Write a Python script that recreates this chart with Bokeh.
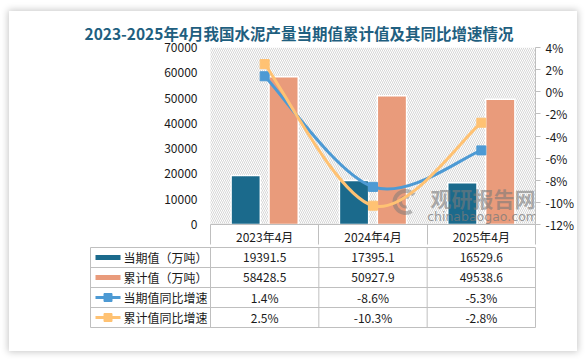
from bokeh.plotting import figure
from bokeh.models import (Range1d, LinearAxis, FixedTicker, PrintfTickFormatter,
                          BoxAnnotation, Label, ColumnDataSource)
from bokeh.layouts import column
from bokeh.embed import file_html
from bokeh.resources import INLINE
from bokeh.core.properties import value

# ---------------- data ----------------
categories = ["2023年4月", "2024年4月", "2025年4月"]
cur_vals = [19391.5, 17395.1, 16529.6]        # 当期值（万吨）
cum_vals = [58428.5, 50927.9, 49538.6]        # 累计值（万吨）
cur_yoy = [1.4, -8.6, -5.3]                   # 当期值同比增速 %
cum_yoy = [2.5, -10.3, -2.8]                  # 累计值同比增速 %
series_names = ["当期值（万吨）", "累计值（万吨）", "当期值同比增速", "累计值同比增速"]
left_ticks = [0, 10000, 20000, 30000, 40000, 50000, 60000, 70000]
right_ticks = [-12, -10, -8, -6, -4, -2, 0, 2, 4]
title_text = "2023-2025年4月我国水泥产量当期值累计值及其同比增速情况"

# ---------------- style ----------------
FONT = "Noto Sans CJK SC"
C_CUR = "#1b6a8c"
C_CUM = "#e99b7b"
C_CURY = "#4d9ad4"
C_CUMY = "#ffc273"
GRID = "#bfbfbf"
TXT = "#1a1a1a"
WM = "#7a7a7a"

W = 568
BL, BR = 81, 42               # borders shared by both figures
n = len(categories)
col_px = (W - BL - BR - 120) / n   # pixel width of one category column
L = 120.0 / col_px                 # label column width in data units
u = 1.0 / col_px                   # data units per pixel
xc = [i + 0.5 for i in range(n)]

# ---------------- chart ----------------
p = figure(width=W, height=236, x_range=Range1d(-L, n),
           y_range=Range1d(left_ticks[0], left_ticks[-1]),
           output_backend="svg", toolbar_location=None,
           min_border_left=BL, min_border_right=BR, min_border_top=36,
           min_border_bottom=20, outline_line_color=None,
           background_fill_color="white", border_fill_color="white",
           title=title_text)
p.title.align = "left"
p.title.offset = -6
p.title.standoff = 8
p.title.text_font = FONT
p.title.text_font_size = "15.5px"
p.title.text_font_style = "bold"
p.title.text_color = "#1f5f80"

p.xgrid.visible = False
p.ygrid.visible = False

# hatched plot background (only over the category area)
p.add_layout(BoxAnnotation(left=0, fill_color=None, line_color=None, hatch_pattern="\\",
                           hatch_color="#d6d6d6", hatch_scale=4, hatch_weight=1,
                           level="underlay"))

# left axis (labels pushed right to sit next to the category area)
ya = p.yaxis[0]
ya.ticker = FixedTicker(ticks=left_ticks)
ya.axis_line_color = None
ya.major_tick_line_color = None
ya.minor_tick_line_color = None
ya.major_tick_in = 0
ya.major_tick_out = 0
ya.major_label_standoff = -107
ya.major_label_text_font = FONT
ya.major_label_text_font_size = "12px"
ya.major_label_text_color = TXT

# bottom axis acting as table header
xa = p.xaxis[0]
xa.ticker = FixedTicker(ticks=xc, minor_ticks=list(range(n + 1)))
xa.major_label_overrides = {x: c for x, c in zip(xc, categories)}
xa.bounds = (0, n)
xa.major_tick_in = 0
xa.major_tick_out = 0
xa.minor_tick_in = 0
xa.minor_tick_out = 20
xa.minor_tick_line_color = GRID
xa.axis_line_color = GRID
xa.major_label_standoff = -17
xa.major_label_text_font = FONT
xa.major_label_text_font_size = "12px"
xa.major_label_text_color = TXT

# right axis
p.extra_y_ranges = {"pct": Range1d(right_ticks[0], right_ticks[-1])}
ra = LinearAxis(y_range_name="pct", ticker=FixedTicker(ticks=right_ticks),
                formatter=PrintfTickFormatter(format="%d%%"))
ra.axis_line_color = GRID
ra.major_tick_line_color = GRID
ra.major_tick_in = 0
ra.major_tick_out = 5
ra.minor_tick_line_color = None
ra.major_label_standoff = 5
ra.major_label_text_font = FONT
ra.major_label_text_font_size = "12px"
ra.major_label_text_color = TXT
p.add_layout(ra, "right")

# bars
bw = 0.27
off = 0.175
p.vbar(x=[x - off for x in xc], top=cur_vals, width=bw, fill_color=C_CUR,
       line_color="white", line_width=1.5)
p.vbar(x=[x + off for x in xc], top=cum_vals, width=bw, fill_color=C_CUM,
       line_color="white", line_width=1.5)

# watermark
p.add_layout(Label(x=2.03, y=4700, text="观研报告网", text_font=FONT,
                   text_font_size="21px", text_font_style="bold",
                   text_color=WM, text_alpha=0.6, text_baseline="bottom"))
p.add_layout(Label(x=2.0, y=150, text="chinabaogao.com", text_font="DejaVu Sans",
                   text_font_size="12.5px", text_color=WM, text_alpha=0.75,
                   text_baseline="bottom"))
p.arc(x=[1.80], y=[8900], radius=11, radius_units="screen", start_angle=0.7,
      end_angle=5.3, line_color=WM, line_alpha=0.5, line_width=4)
p.arc(x=[1.80], y=[8900], radius=5, radius_units="screen", start_angle=0.9,
      end_angle=5.0, line_color=WM, line_alpha=0.5, line_width=3)


# smooth lines (cardinal Bezier segments through the data points)
def bez(xs, ys):
    m = len(xs)
    tx, ty = [], []
    for i in range(m):
        a = max(i - 1, 0)
        b = min(i + 1, m - 1)
        tx.append((xs[b] - xs[a]) / 2)
        ty.append((ys[b] - ys[a]) / 2)
    d = dict(x0=[], y0=[], x1=[], y1=[], cx0=[], cy0=[], cx1=[], cy1=[])
    for i in range(m - 1):
        d["x0"].append(xs[i]); d["y0"].append(ys[i])
        d["x1"].append(xs[i + 1]); d["y1"].append(ys[i + 1])
        d["cx0"].append(xs[i] + tx[i] / 3); d["cy0"].append(ys[i] + ty[i] / 3)
        d["cx1"].append(xs[i + 1] - tx[i + 1] / 3); d["cy1"].append(ys[i + 1] - ty[i + 1] / 3)
    return ColumnDataSource(d)


for vals, col in ((cur_yoy, C_CURY), (cum_yoy, C_CUMY)):
    p.bezier(x0="x0", y0="y0", x1="x1", y1="y1", cx0="cx0", cy0="cy0",
             cx1="cx1", cy1="cy1", source=bez(xc, vals), y_range_name="pct",
             line_color=col, line_width=3)
    p.scatter(x=xc, y=vals, marker="square", size=9, fill_color=col,
              line_color=col, y_range_name="pct")

# ---------------- table ----------------
nrows = len(series_names)
t = figure(width=W, height=104, x_range=Range1d(-L, n), y_range=Range1d(nrows, 0),
           x_axis_location=None, y_axis_location=None,
           output_backend="svg", toolbar_location=None,
           min_border_left=BL, min_border_right=BR, min_border_top=0,
           min_border_bottom=24, outline_line_color=GRID,
           background_fill_color="white", border_fill_color="white")
t.xgrid.visible = False
t.ygrid.visible = False

t.segment(x0=[-L] * (nrows - 1), x1=[n] * (nrows - 1), y0=list(range(1, nrows)),
          y1=list(range(1, nrows)), line_color=GRID, line_width=1)
t.segment(x0=list(range(n)), x1=list(range(n)), y0=[0] * n, y1=[nrows] * n,
          line_color=GRID, line_width=1)

rows = [
    [f"{v}" for v in cur_vals],
    [f"{v}" for v in cum_vals],
    [f"{v}%" for v in cur_yoy],
    [f"{v}%" for v in cum_yoy],
]
tx, ty, tt = [], [], []
for r, row in enumerate(rows):
    for j, s in enumerate(row):
        tx.append(xc[j]); ty.append(r + 0.5); tt.append(s)
t.text(x=tx, y=ty, text=tt, text_align="center", text_baseline="middle",
       text_font=value(FONT), text_font_size="12px", text_color=TXT)

sw_c = -L + 17.5 * u
t.rect(x=[sw_c, sw_c], y=[0.5, 1.5], width=25 * u, height=5, height_units="screen",
       fill_color=[C_CUR, C_CUM], line_color=None)
t.segment(x0=[sw_c - 12.5 * u] * 2, x1=[sw_c + 12.5 * u] * 2, y0=[2.5, 3.5],
          y1=[2.5, 3.5], line_color=[C_CURY, C_CUMY], line_width=3)
t.scatter(x=[sw_c, sw_c], y=[2.5, 3.5], marker="square", size=8,
          fill_color=[C_CURY, C_CUMY], line_color=[C_CURY, C_CUMY])
t.text(x=[-L + 33 * u] * nrows, y=[r + 0.5 for r in range(nrows)], text=series_names,
       text_align="left", text_baseline="middle", text_font=value(FONT),
       text_font_size="12px", text_color=TXT)

layout = column(p, t, margin=(11, 0, 0, 9),
                styles={"background-color": "white",
                        "box-shadow": "0 0 7px 1px rgba(0,0,0,0.22)"})

open("out.html", "w").write(file_html(layout, INLINE))
